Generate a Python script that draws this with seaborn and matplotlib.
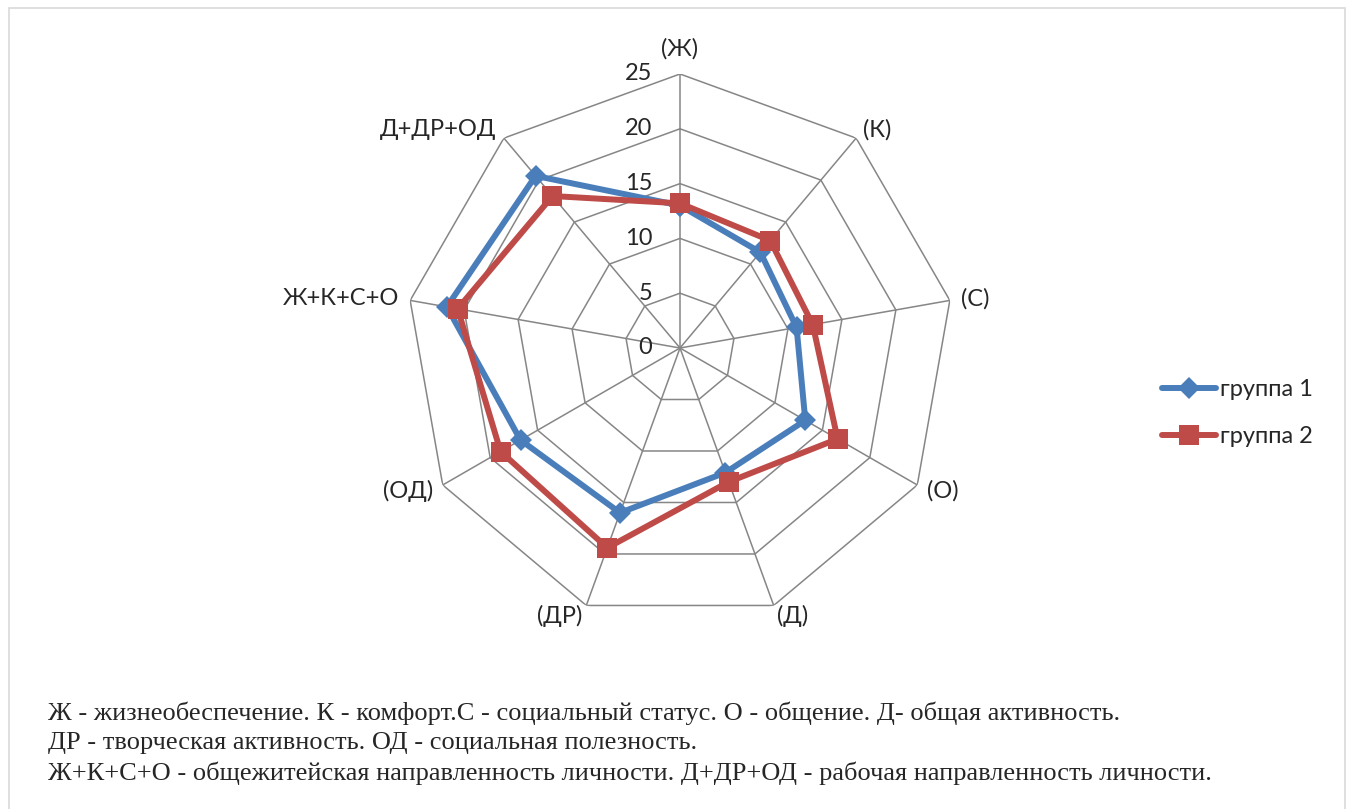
import numpy as np
import pandas as pd
import matplotlib
matplotlib.use('Agg')
import matplotlib.pyplot as plt
from matplotlib.patches import Rectangle
import seaborn as sns

categories = ['(Ж)', '(К)', '(С)', '(О)', '(Д)', '(ДР)', '(ОД)', 'Ж+К+С+О', 'Д+ДР+ОД']
group1 = [13.0, 11.4, 10.8, 13.2, 12.1, 16.0, 16.8, 21.6, 20.5]
group2 = [13.2, 12.8, 12.3, 16.6, 13.0, 19.4, 18.9, 20.6, 18.1]
series_names = ['группа 1', 'группа 2']
ticks = [0, 5, 10, 15, 20, 25]
caption = ['Ж - жизнеобеспечение. К - комфорт.С - социальный статус. О - общение. Д- общая активность.',
           'ДР - творческая активность. ОД - социальная полезность.',
           'Ж+К+С+О - общежитейская направленность личности. Д+ДР+ОД - рабочая направленность личности.']

sns.set_style('white')
plt.rcParams['font.family'] = ['Lato', 'DejaVu Sans']

W, H = 1351, 809
fig = plt.figure(figsize=(W / 100, H / 100), dpi=100)
cx, cy, R = 680, 348, 274
ax = fig.add_axes([(cx - R) / W, (H - cy - R) / H, 2 * R / W, 2 * R / H], projection='polar')
ax.set_theta_offset(np.pi / 2)
ax.set_theta_direction(-1)
ax.set_ylim(0, 25)
ax.grid(False)
ax.spines['polar'].set_visible(False)
ax.set_xticks([])
ax.set_yticks([])
ax.patch.set_alpha(0)

n = len(categories)
theta = np.linspace(0, 2 * np.pi, n, endpoint=False)
closed = np.append(theta, 2 * np.pi)
grid_col = '#868686'
for r in ticks[1:]:
    ax.plot(closed, [r] * (n + 1), color=grid_col, lw=1.1, zorder=1)
for t in theta:
    ax.plot([t, t], [0, 25], color=grid_col, lw=1.1, zorder=1)

rows = []
for name, vals in zip(series_names, [group1, group2]):
    vv = list(vals) + [vals[0]]
    for t, v in zip(closed, vv):
        rows.append({'theta': t, 'value': v, 'group': name})
df = pd.DataFrame(rows)

colors = {'группа 1': '#4A7EBB', 'группа 2': '#BE4B48'}
markers = {'группа 1': 'D', 'группа 2': 's'}
msize = {'группа 1': 11, 'группа 2': 14}
for name in series_names:
    sub = df[df.group == name]
    sns.lineplot(data=sub, x='theta', y='value', ax=ax, sort=False, estimator=None,
                 color=colors[name], lw=4.3, marker=markers[name], markersize=msize[name],
                 markeredgewidth=0, label=name, legend=False, zorder=3)
ax.set_xlabel('')
ax.set_ylabel('')
ax.set_ylim(0, 25)

fs = 17
for t, lab in zip(theta, categories):
    s = np.sin(t)
    if abs(s) < 1e-6:
        ax.text(t, 26.3, lab, ha='center', va='bottom', fontsize=fs)
    else:
        ax.text(t, 26.0, lab, ha='left' if s > 0 else 'right', va='center', fontsize=fs)

for v in ticks:
    ax.annotate(str(v), xy=(0, v), xytext=(-20, 0), textcoords='offset points',
                ha='right', va='center', fontsize=fs)

h, l = ax.get_legend_handles_labels()
fig.legend(h, l, loc='center left', bbox_to_anchor=(1162 / W, 1 - 413 / H), frameon=False,
           fontsize=fs, handlelength=2.3, handletextpad=0.15, labelspacing=1.1,
           borderpad=0, borderaxespad=0)

for i, line in enumerate(caption):
    fig.text(48 / W, 1 - (713 + 30 * i) / H, line, ha='left', va='center', fontsize=19,
             family=['Liberation Serif', 'DejaVu Serif'])

fig.patches.append(Rectangle((9 / W, 1 - 815 / H), 1336 / W, 807 / H, transform=fig.transFigure,
                             fill=False, edgecolor='#d9d9d9', lw=1.2))

fig.savefig('out.png', dpi=100)
